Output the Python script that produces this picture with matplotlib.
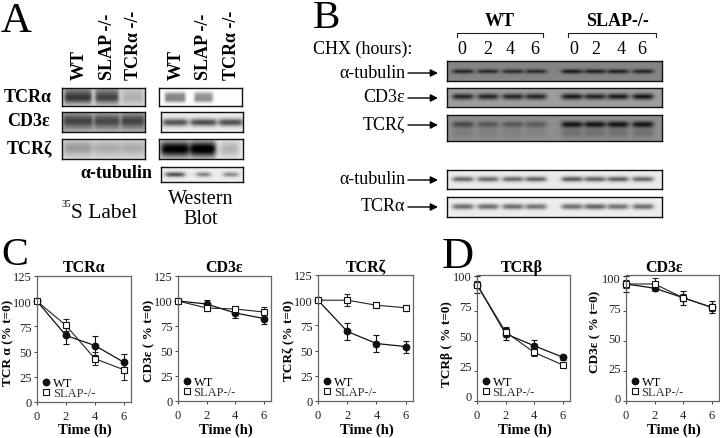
import numpy as np
import matplotlib
matplotlib.use('Agg')
import matplotlib.pyplot as plt
from matplotlib.lines import Line2D
from matplotlib.transforms import ScaledTranslation

plt.rcParams['font.family'] = ['Liberation Serif', 'DejaVu Serif']

W, H = 720, 439

# time course data
time = [0, 2, 4, 6]

tcra_wt = [100, 66, 56, 39.5]
tcra_wt_err = [0, 8.5, 9, 8]
tcra_slap = [100, 76, 43, 32]
tcra_slap_err = [0, 6, 6.5, 10]

cd3_wt = [100, 97, 88, 82.5]
cd3_wt_err = [0, 4, 5, 5]
cd3_slap = [100, 93, 92, 89]
cd3_slap_err = [0, 3, 3, 5]

tcrz_wt = [100, 69, 57, 54]
tcrz_wt_err = [0, 8, 8, 6]
tcrz_slap = [100, 100, 95, 92.5]
tcrz_slap_err = [0, 6, 3, 3]

tcrb_wt = [97, 56, 46, 36.5]
tcrb_wt_err = [7, 5, 5, 2]
tcrb_slap = [97, 57.5, 40.5, 30]
tcrb_slap_err = [3, 4, 3, 2]

cd3d_wt = [97.5, 94, 86, 78]
cd3d_wt_err = [7, 2, 6, 5]
cd3d_slap = [97.5, 97.5, 86, 78]
cd3d_slap_err = [3, 5, 3, 3]

# blot lanes
lanes_a1 = [78, 107, 133]
lanes_a2 = [175, 203, 230]
lanes_b = [463, 488, 513, 536, 572, 595, 618, 643]

fig = plt.figure(figsize=(W / 100, H / 100), dpi=100, facecolor='white')


def px_axes(x0, y0, x1, y1):
    return fig.add_axes([x0 / W, 1 - y1 / H, (x1 - x0) / W, (y1 - y0) / H])


# soft grey bands on a flat background, one image pixel per screen pixel
def blot(box, bg, lanes, widths, darks, bands, soft=3.0):
    x0, y0, x1, y1 = box
    ax = px_axes(x0, y0, x1, y1)
    xs = np.arange(x0, x1) + 0.5
    ys = np.linspace(0, 1, y1 - y0)
    img = np.full((y1 - y0, x1 - x0), float(bg))
    for c, w, d in zip(lanes, widths, darks):
        fx = 0.5 * (np.tanh((xs - c + w / 2) / soft) - np.tanh((xs - c - w / 2) / soft))
        for yc, h, k in bands:
            img -= d * k * np.outer(np.exp(-((ys - yc) / h) ** 2), fx)
    ax.imshow(np.clip(img, 0, 1), cmap='gray', vmin=0, vmax=1, aspect='auto',
              interpolation='bilinear')
    ax.set_xticks([])
    ax.set_yticks([])
    for s in ax.spines.values():
        s.set_linewidth(1.0)
        s.set_color('#111111')
    return ax


# panel A
blot((62, 89, 145, 107), 0.84, lanes_a1, [27, 23, 20], [0.5, 0.46, 0.12],
     [(0.3, 0.45, 0.8), (0.62, 0.3, 0.7)], soft=2.0)
blot((62, 113, 145, 133), 0.72, lanes_a1, [29, 25, 23], [0.46, 0.44, 0.46],
     [(0.45, 0.38, 1.0)], soft=2.0)
blot((62, 140, 145, 160), 0.87, lanes_a1, [28, 26, 24], [0.26, 0.2, 0.2],
     [(0.45, 0.4, 1.0)])
blot((159, 89, 242, 107), 0.99, lanes_a2[:2] + [230], [20, 18, 0], [0.42, 0.38, 0],
     [(0.38, 0.18, 0.9), (0.65, 0.18, 1.0)], soft=1.5)
blot((161, 113, 243, 133), 0.93, lanes_a2, [24, 25, 23], [0.6, 0.62, 0.62],
     [(0.52, 0.2, 1.0)])
blot((159, 140, 243, 160), 0.92, lanes_a2, [28, 25, 18], [0.95, 0.98, 0.22],
     [(0.5, 0.42, 1.0)])
blot((161, 168, 243, 183), 0.93, lanes_a2, [18, 13, 14], [0.6, 0.42, 0.38],
     [(0.5, 0.18, 1.0)])

# panel B
w8 = [20] * 8
blot((447, 62, 662, 82), 0.52, lanes_b, w8,
     [0.36, 0.34, 0.34, 0.34, 0.4, 0.38, 0.38, 0.36], [(0.52, 0.12, 1.0)])
blot((447, 89, 662, 108), 0.62, lanes_b, w8,
     [0.46, 0.46, 0.46, 0.46, 0.5, 0.46, 0.5, 0.52], [(0.45, 0.17, 1.0)])
blot((447, 116, 662, 142), 0.56, lanes_b, w8,
     [0.28, 0.22, 0.22, 0.2, 0.48, 0.48, 0.48, 0.48],
     [(0.38, 0.12, 1.0), (0.7, 0.2, 0.25)])
blot((447, 171, 662, 190), 0.92, lanes_b, w8,
     [0.5, 0.5, 0.5, 0.52, 0.56, 0.52, 0.54, 0.5], [(0.48, 0.15, 1.0)])
blot((447, 198, 662, 218), 0.93, lanes_b, w8,
     [0.5, 0.5, 0.5, 0.48, 0.5, 0.54, 0.48, 0.5], [(0.48, 0.15, 1.0)])


# one time course panel
def course(box, title, ylabel, wt, wt_err, slap, slap_err, ymax, yticks, shift, title_x, label_x, label_y):
    ax = px_axes(*box)
    ax.errorbar(time, wt, yerr=wt_err, color='#111111', lw=0.9, marker='o', ms=4.6,
                capsize=2, elinewidth=0.8, capthick=0.8, clip_on=False)
    ax.errorbar(time, slap, yerr=slap_err, color='#222222', lw=0.8, marker='s', ms=4.0,
                mfc='white', mec='#111111', mew=0.8, capsize=2, elinewidth=0.8,
                capthick=0.8, clip_on=False)
    ax.set_xlim(0, 6.5)
    ax.set_ylim(0, ymax)
    ax.set_xticks(time)
    ax.set_yticks(yticks)
    ax.tick_params(length=2, width=0.7, color='#444444', labelsize=9, labelcolor='#222222')
    ax.tick_params(axis='x', pad=3.5)
    ax.tick_params(axis='y', pad=1.5)
    for s in ax.spines.values():
        s.set_color('#666666')
        s.set_linewidth(0.9)
    offset = ScaledTranslation(0, shift / 72, fig.dpi_scale_trans)
    for lab in ax.get_yticklabels():
        lab.set_transform(lab.get_transform() + offset)
    handles = [Line2D([], [], ls='none', marker='o', ms=4.6, color='#111111'),
               Line2D([], [], ls='none', marker='s', ms=4.0, mfc='white', mec='#111111', mew=0.8)]
    leg = ax.legend(handles, ['WT', 'SLAP-/-'], loc='lower left', bbox_to_anchor=(0.02, 0.0),
                    frameon=False, fontsize=9, handlelength=0.7, handletextpad=0.2,
                    labelspacing=-0.15, borderpad=0.1, borderaxespad=0.1)
    leg.get_texts()[1].set_color('#333333')
    ov.text(title_x, 268, title, fontweight='bold', fontsize=11.5, ha='center', va='center')
    ov.text((box[0] + box[2]) / 2 + 1, 430, 'Time (h)', fontweight='bold', fontsize=10.5,
            ha='center', va='center')
    ov.text(label_x, label_y, ylabel, fontweight='bold', fontsize=9.5, rotation=90,
            ha='center', va='center')
    return ax


# overlay in screen pixels for labels, arrows and brackets
ov = fig.add_axes([0, 0, 1, 1], zorder=10)
ov.set_xlim(0, W)
ov.set_ylim(H, 0)
ov.axis('off')

course((37, 277, 131, 403), 'TCRα', 'TCR α (% t=0)', tcra_wt, tcra_wt_err, tcra_slap, tcra_slap_err,
       125, [0, 25, 50, 75, 100, 125], 0, 84, 8, 343)
course((178, 277, 271, 402), 'CD3ε', 'CD3ε ( % t=0)', cd3_wt, cd3_wt_err, cd3_slap, cd3_slap_err,
       125, [0, 25, 50, 75, 100, 125], 0, 224, 149, 341)
course((318, 276, 413, 402), 'TCRζ', 'TCRζ (% t=0)', tcrz_wt, tcrz_wt_err, tcrz_slap, tcrz_slap_err,
       125, [0, 25, 50, 75, 100, 125], 0, 366, 288, 341)
course((477, 276, 570, 402), 'TCRβ', 'TCRβ ( % t=0)', tcrb_wt, tcrb_wt_err, tcrb_slap, tcrb_slap_err,
       105, [0, 25, 50, 75, 100], 4, 522, 447, 344)
course((626, 276, 719, 402), 'CD3ε', 'CD3ε ( % t=0)', cd3d_wt, cd3d_wt_err, cd3d_slap, cd3d_slap_err,
       105, [0, 25, 50, 75, 100], 2.5, 664, 595, 332)

# panel letters
for letter, x, y, size in [('A', 1, 32, 31), ('B', 313, 28, 29.5), ('C', 1, 265, 29), ('D', 442, 268, 32)]:
    ov.text(x, y, letter, fontsize=size, ha='left', va='baseline')

# panel A labels
for x, name in zip(lanes_a1 + lanes_a2, ['WT', 'SLAP -/-', 'TCRα -/-'] * 2):
    ov.text(x + 1, 80, name, fontweight='bold', fontsize=13, rotation=90, ha='center', va='bottom')
ov.text(28, 98, 'TCRα', fontweight='bold', fontsize=13, ha='center', va='center')
ov.text(29, 122, 'CD3ε', fontweight='bold', fontsize=13, ha='center', va='center')
ov.text(29, 150, 'TCRζ', fontweight='bold', fontsize=13, ha='center', va='center')
ov.text(152, 174, 'α-tubulin', fontweight='bold', fontsize=13, ha='right', va='center')
ov.text(62, 205, '35', fontsize=7, ha='left', va='center')
ov.text(71, 218, 'S Label', fontsize=15.5, ha='left', va='baseline')
ov.text(201, 200, 'Western', fontsize=14.5, ha='center', va='center')
ov.text(201, 220, 'Blot', fontsize=14.5, ha='center', va='center')

# panel B labels
ov.text(500, 21, 'WT', fontweight='bold', fontsize=13, ha='center', va='center')
ov.text(617, 21, 'SLAP-/-', fontweight='bold', fontsize=13, ha='center', va='center')
for x0, x1 in [(457, 543), (568, 656)]:
    ov.plot([x0, x0, x1, x1], [38, 34, 34, 38], color='#222222', lw=0.8)
ov.text(313, 49, 'CHX (hours):', fontsize=13, ha='left', va='center')
for x, hour in zip([462, 488, 510, 535, 574, 596, 621, 642], [0, 2, 4, 6, 0, 2, 4, 6]):
    ov.text(x, 49, str(hour), fontsize=13, ha='center', va='center')
for y, name in [(73, 'α-tubulin'), (98, 'CD3ε'), (125, 'TCRζ'), (180, 'α-tubulin'), (207, 'TCRα')]:
    ov.text(405, y, name, fontsize=13, ha='right', va='center')
    ov.annotate('', xy=(438, y + 1), xytext=(408, y + 1),
                arrowprops=dict(arrowstyle='-|>', color='black', lw=1.0, shrinkA=0, shrinkB=0,
                                mutation_scale=11))

fig.savefig('out.png', dpi=100)
